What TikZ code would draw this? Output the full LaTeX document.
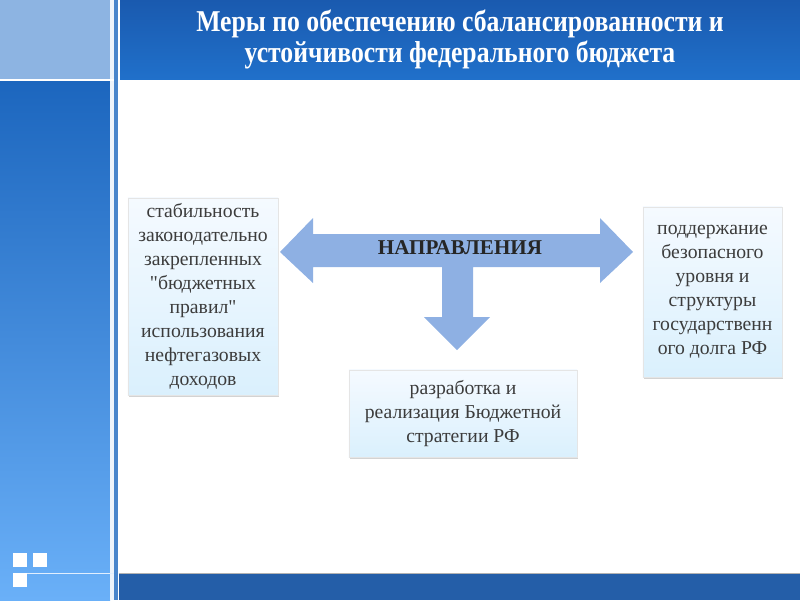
\documentclass[tikz,border=0pt]{standalone}
\usepackage{fontspec}
\setmainfont{Liberation Serif}
\newfontfamily\titlefont[FakeStretch=0.85]{Liberation Serif}
\usetikzlibrary{shadows}
\definecolor{sidelight}{RGB}{141,180,226}
\definecolor{sidetop}{RGB}{28,102,190}
\definecolor{sidebottom}{RGB}{106,176,248}
\definecolor{titletop}{RGB}{26,90,175}
\definecolor{titlebottom}{RGB}{32,112,202}
\definecolor{footblue}{RGB}{36,94,168}
\definecolor{arrowblue}{RGB}{142,176,227}
\definecolor{boxtop}{RGB}{245,250,255}
\definecolor{boxbottom}{RGB}{218,240,253}
\definecolor{textgray}{RGB}{60,60,60}

\begin{document}
\begin{tikzpicture}[x=0.025cm, y=-0.025cm,
        box/.style={draw=gray!20, top color=boxtop, bottom color=boxbottom,
                    align=center, text=textgray, inner sep=2pt,
                    font=\fontsize{14}{17}\selectfont,
                    drop shadow={shadow xshift=1pt, shadow yshift=-1.5pt, opacity=0.35}},
        heading/.style={text=white, align=center,
                        font=\titlefont\bfseries\fontsize{21.5}{21.5}\selectfont}
      ]
        \useasboundingbox (0,0) rectangle (800,600);
        % side column
        \fill[sidelight] (0,0) rectangle (110,79);
        \shade[top color=sidetop, bottom color=sidebottom] (0,81) rectangle (110,600);
        \fill[white!85!sidelight] (110,0) rectangle (114,600);
        \fill[sidetop!80!white] (114,0) rectangle (118,600);
        \fill[white] (0,79) rectangle (114,81);
        \fill[white!80!sidebottom] (27,572.5) rectangle (114,574);
        \fill[white] (13,553) rectangle (27,567);
        \fill[white] (33,553) rectangle (47,567);
        \fill[white] (13,573) rectangle (27,587);
        % title bar and footer
        \shade[top color=titletop, bottom color=titlebottom] (120,0) rectangle (800,79);
        \fill[footblue] (119,574) rectangle (800,600);
        \draw[gray!60] (119,573.5) -- (800,573.5);
        \node[heading] (title) at (460,39.5) {Меры по обеспечению сбалансированности и\\устойчивости федерального бюджета};
        % arrow
        \fill[arrowblue] (280,252) -- (313,218) -- (313,234) -- (600,234) -- (600,218)
          -- (633,252) -- (600,283) -- (600,267) -- (473,267) -- (473,317) -- (490,317)
          -- (457,350) -- (424,317) -- (442,317) -- (442,267) -- (313,267) -- (313,283) -- cycle;
        \node[text=black!85, font=\bfseries\fontsize{15}{17}\selectfont] (dir) at (460,248) {НАПРАВЛЕНИЯ};
        % boxes
        \node[box, minimum width=3.75cm, minimum height=4.925cm] (rules) at (203,296.5)
          {\rule{0pt}{6pt}стабильность\\законодательно\\закрепленных\\\textquotedbl бюджетных\\правил\textquotedbl\\использования\\нефтегазовых\\доходов};
        \node[box, minimum width=5.7cm, minimum height=2.175cm] (strategy) at (463,413.5)
          {разработка и\\реализация Бюджетной\\стратегии РФ};
        \node[box, minimum width=3.475cm, minimum height=4.25cm] (debt) at (712.5,292)
          {поддержание\\безопасного\\уровня и\\структуры\\государственн\\ого долга РФ};
      \end{tikzpicture}
\end{document}
